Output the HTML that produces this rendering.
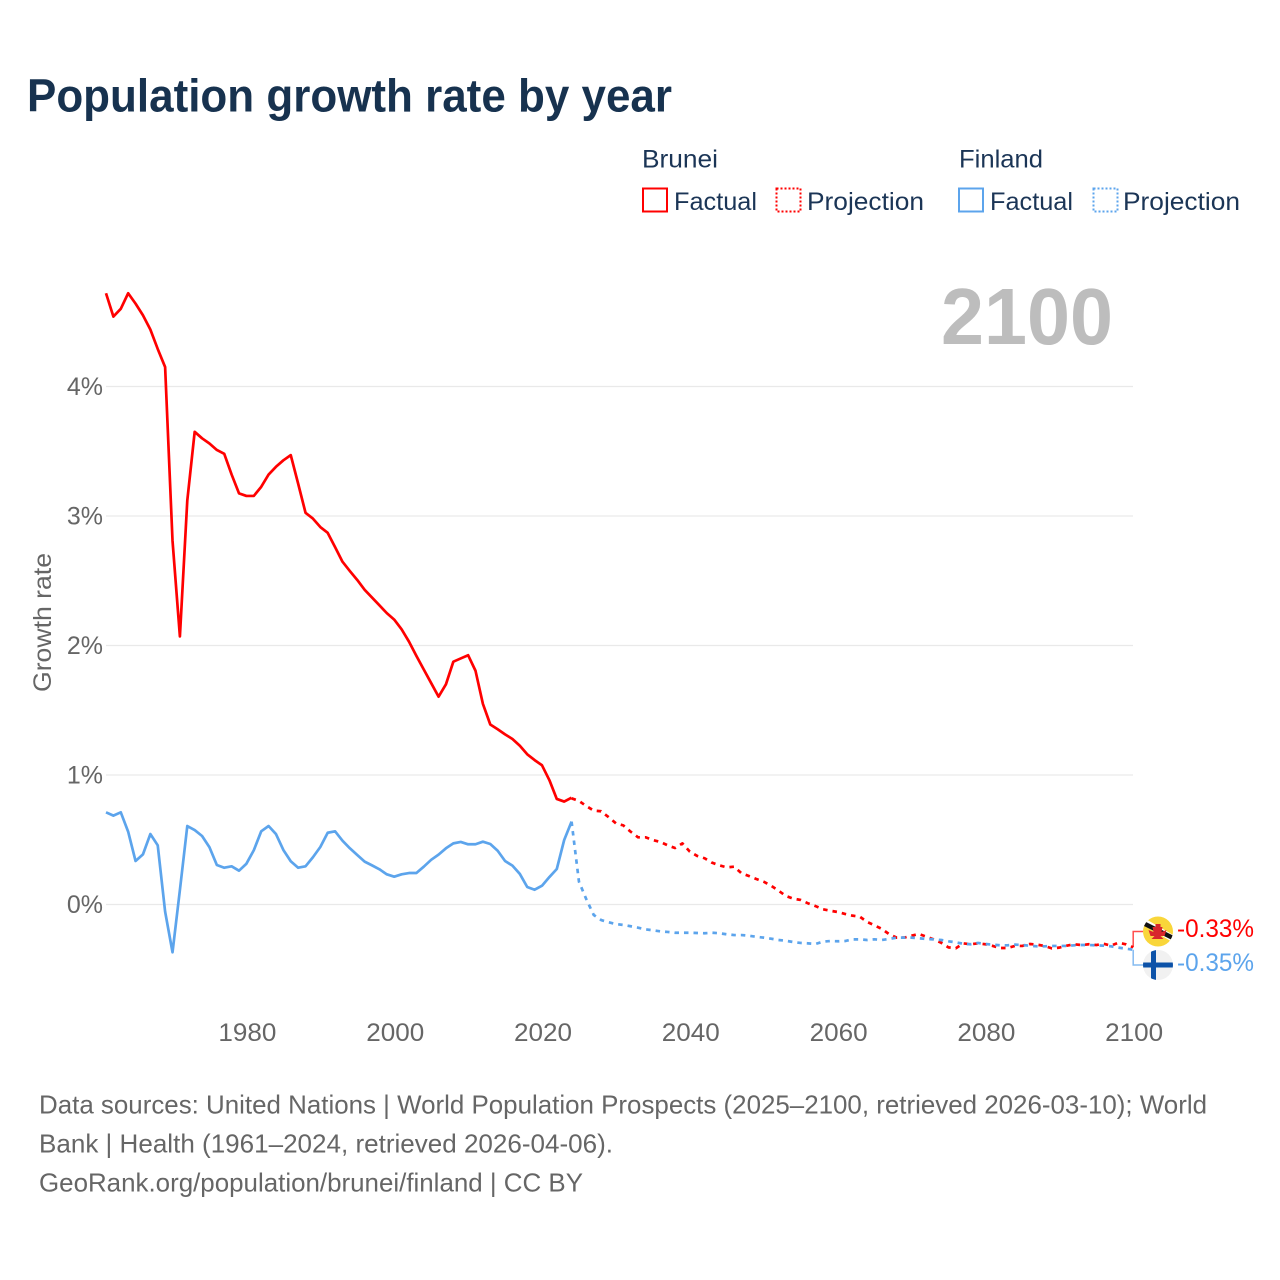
<!DOCTYPE html>
<html lang="en">
<head>
<meta charset="utf-8">
<title>Population growth rate by year</title>
<style>
html,body{margin:0;padding:0;background:#fff;}
svg{display:block;font-family:"Liberation Sans",sans-serif;}
</style>
</head>
<body>
<svg id="chart" xmlns="http://www.w3.org/2000/svg" width="1280" height="1280" viewBox="0 0 1280 1280">
  <rect width="1280" height="1280" fill="#fff"/>
  <text x="27" y="111.500" font-size="46" font-weight="700" fill="#17324f" textLength="645" lengthAdjust="spacingAndGlyphs">Population growth rate by year</text>

  <g font-size="25" fill="#1b3556">
    <text x="642" y="167.500" textLength="76" lengthAdjust="spacingAndGlyphs">Brunei</text>
    <text x="959" y="167.500" textLength="84" lengthAdjust="spacingAndGlyphs">Finland</text>
    <rect x="643" y="188.500" width="24" height="23" fill="none" stroke="#ff0000" stroke-width="2"/>
    <text x="674" y="210" textLength="83" lengthAdjust="spacingAndGlyphs">Factual</text>
    <rect x="776.500" y="188.500" width="24" height="23" fill="none" stroke="#ff0000" stroke-width="2" stroke-dasharray="2 2"/>
    <text x="807" y="210" textLength="117" lengthAdjust="spacingAndGlyphs">Projection</text>
    <rect x="959" y="188.500" width="24" height="23" fill="none" stroke="#5ca4ec" stroke-width="2"/>
    <text x="990" y="210" textLength="83" lengthAdjust="spacingAndGlyphs">Factual</text>
    <rect x="1093.500" y="188.500" width="24" height="23" fill="none" stroke="#5ca4ec" stroke-width="2" stroke-dasharray="2 2"/>
    <text x="1123" y="210" textLength="117" lengthAdjust="spacingAndGlyphs">Projection</text>
  </g>

  <text x="941" y="344" font-size="80" font-weight="700" fill="#bdbdbd" textLength="172" lengthAdjust="spacingAndGlyphs">2100</text>
  <text transform="translate(51,622.500) rotate(-90)" text-anchor="middle" font-size="25" fill="#666" textLength="139" lengthAdjust="spacingAndGlyphs">Growth rate</text>

  <g id="grid"></g>
  <g id="yticks" font-size="25" fill="#666"></g>
  <g id="xticks" font-size="25" fill="#666"></g>
  <g id="series"></g>

  <g>
    <path id="conn-brunei" fill="none" stroke="#ff0000" stroke-opacity="0.7" stroke-width="1.500"/>
    <path id="conn-finland" fill="none" stroke="#5ca4ec" stroke-opacity="0.75" stroke-width="1.500"/>
    <defs>
      <clipPath id="clip-bn"><circle cx="1158" cy="931.500" r="15"/></clipPath>
      <clipPath id="clip-fi"><circle cx="1158" cy="965" r="15"/></clipPath>
    </defs>
    <g clip-path="url(#clip-bn)">
      <rect x="1143" y="916" width="30" height="31" fill="#f9d63a"/>
      <path d="M1141 920 L1177 941" stroke="#ffffff" stroke-width="6.500" fill="none"/>
      <path d="M1141 922 L1177 940" stroke="#111111" stroke-width="4.500" fill="none"/>
      <path d="M1155.500 924 h5 v3 h2 l-1 5 l5 -2 l-2 6 h-4 l3 3 h-12 l3 -3 h-4 l-2 -6 l5 2 l-1 -5 h3z" fill="#d8262c"/>
    </g>
    <g clip-path="url(#clip-fi)">
      <rect x="1143" y="950" width="30" height="30" fill="#f1f1f1"/>
      <rect x="1143" y="962.500" width="30" height="5" fill="#0c52a8"/>
      <rect x="1151" y="950" width="5" height="30" fill="#0c52a8"/>
    </g>
    <text x="1177" y="937" font-size="25" fill="#ff0000" textLength="77" lengthAdjust="spacingAndGlyphs">-0.33%</text>
    <text x="1177" y="971" font-size="25" fill="#5ca4ec" textLength="77" lengthAdjust="spacingAndGlyphs">-0.35%</text>
  </g>

  <g font-size="26" fill="#666">
    <text x="39" y="1113.500" textLength="1168" lengthAdjust="spacingAndGlyphs">Data sources: United Nations | World Population Prospects (2025–2100, retrieved 2026-03-10); World</text>
    <text x="39" y="1152.500" textLength="574" lengthAdjust="spacingAndGlyphs">Bank | Health (1961–2024, retrieved 2026-04-06).</text>
    <text x="39" y="1191.500" textLength="544" lengthAdjust="spacingAndGlyphs">GeoRank.org/population/brunei/finland | CC BY</text>
  </g>
</svg>
<script>
const factualStartYear = 1961;
const projectionStartYear = 2024;
const yTickValues = [0, 1, 2, 3, 4];
const yTickLabels = ["0%", "1%", "2%", "3%", "4%"];
const xTickLabels = [1980, 2000, 2020, 2040, 2060, 2080, 2100];

const bruneiFactual = [4.72,4.54,4.60,4.72,4.64,4.55,4.44,4.29,4.15,
  2.81,2.07,3.12,3.65,3.60,3.56,3.51,3.48,3.32,3.175,
  3.155,3.155,3.225,3.32,3.38,3.43,3.47,3.25,3.025,2.98,
  2.915,2.87,2.76,2.647,2.575,2.506,2.43,2.37,2.31,2.25,
  2.20,2.125,2.03,1.92,1.815,1.71,1.605,1.70,1.875,1.90,
  1.925,1.805,1.55,1.39,1.353,1.314,1.278,1.226,1.16,1.115,
  1.075,.96,.815,.795,.825];

const bruneiProjection = [.82,.80,.76,.725,.72,.675,.627,
  .611,.562,.519,.519,.498,.483,.457,.436,.472,.408,
  .375,.357,.323,.302,.287,.292,.241,.22,.197,.176,
  .145,.107,.066,.045,.035,.009,-.012,-.037,-.048,-.058,
  -.073,-.086,-.094,-.135,-.161,
  -.189,-.230,-.256,-.256,-.241,-.228,-.248,-.269,-.295,-.331,
  -.338,-.30,-.307,-.30,-.307,-.32,-.336,-.336,-.32,-.32,
  -.305,-.31,-.32,-.339,-.333,-.318,-.307,-.313,-.307,-.313,
  -.303,-.318,-.295,-.307,-.33];

const finlandFactual = [.712,.686,.712,.562,.336,.387,.544,.457,-.055,
  -.369,.112,.606,.575,.529,.442,.305,.284,.295,.261,
  .315,.419,.565,.606,.544,.421,.334,.284,.295,.365,
  .444,.554,.565,.493,.434,.382,.331,.302,.272,.233,
  .215,.233,.243,.243,.292,.345,.385,.434,.472,.483,
  .465,.465,.485,.467,.415,.336,.30,.236,.135,.114,
  .145,.212,.274,.498,.64];

const finlandProjection = [.64,.176,.04,-.081,-.12,-.137,-.151,
  -.158,-.168,-.179,-.192,-.199,-.207,-.212,-.218,-.218,-.218,
  -.22,-.222,-.218,-.222,-.23,-.236,-.236,-.241,-.249,-.256,
  -.264,-.274,-.28,-.29,-.297,-.30,-.305,-.287,-.282,-.284,
  -.282,-.269,-.269,-.274,-.269,
  -.274,-.266,-.256,-.256,-.256,-.261,-.266,-.269,-.274,-.284,
  -.292,-.303,-.307,-.297,-.305,-.31,-.315,-.315,-.31,-.313,
  -.318,-.323,-.323,-.32,-.32,-.32,-.315,-.313,-.313,-.315,
  -.318,-.323,-.333,-.341,-.349];

const NS = "http://www.w3.org/2000/svg";
const RED = "#ff0000";
const BLUE = "#5ca4ec";

function xScale(year) { return 106 + (year - 1961) * (1133.2 - 106) / (2100 - 1961); }
function yScale(value) { return 904.5 - value * 129.5; }

function linePath(values, startYear) {
  return values.map(function (v, i) {
    return (i ? "L" : "M") + xScale(startYear + i).toFixed(2) + " " + yScale(v).toFixed(2);
  }).join(" ");
}

const grid = document.getElementById("grid");
const yticks = document.getElementById("yticks");
yTickValues.forEach(function (v, i) {
  const line = document.createElementNS(NS, "line");
  
  
  line.setAttribute("x1", xScale(1961));
  line.setAttribute("x2", 1133);
  line.setAttribute("y1", yScale(v));
  line.setAttribute("y2", yScale(v));
  line.setAttribute("stroke", "#e9e9e9");
  line.setAttribute("stroke-width", "1.2");
  grid.appendChild(line);

  const t = document.createElementNS(NS, "text");
  
  
  t.setAttribute("x", 103);
  t.setAttribute("y", yScale(v) + 8.5);
  t.setAttribute("text-anchor", "end");
  t.textContent = yTickLabels[i];
  yticks.appendChild(t);
});

const xticks = document.getElementById("xticks");
xTickLabels.forEach(function (year) {
  const t = document.createElementNS(NS, "text");
  
  
  t.setAttribute("x", xScale(year) + 1);
  t.setAttribute("y", 1041);
  t.setAttribute("text-anchor", "middle");
  t.setAttribute("textLength", "58");
  t.setAttribute("lengthAdjust", "spacingAndGlyphs");
  t.textContent = year;
  xticks.appendChild(t);
});

const seriesGroup = document.getElementById("series");
function addLine(values, startYear, color, dashed) {
  const p = document.createElementNS(NS, "path");
  p.setAttribute("d", linePath(values, startYear));
  p.setAttribute("fill", "none");
  p.setAttribute("stroke", color);
  p.setAttribute("stroke-width", "2.7");
  p.setAttribute("stroke-linejoin", "round");
  if (dashed) { p.setAttribute("stroke-dasharray", "4.5 5"); }
  seriesGroup.appendChild(p);
  return p;
}
const lineBrunei = addLine(bruneiFactual, factualStartYear, RED, false);


const lineBruneiProj = addLine(bruneiProjection, projectionStartYear, RED, true);


const lineFinland = addLine(finlandFactual, factualStartYear, BLUE, false);


const lineFinlandProj = addLine(finlandProjection, projectionStartYear, BLUE, true);



const endX = xScale(2100);
const endBrunei = yScale(bruneiProjection[bruneiProjection.length - 1]);
const endFinland = yScale(finlandProjection[finlandProjection.length - 1]);
document.getElementById("conn-brunei").setAttribute("d", "M" + endX + " " + endBrunei + " V931.5 H1143");
document.getElementById("conn-finland").setAttribute("d", "M" + endX + " " + endFinland + " V965 H1143");
</script>
</body>
</html>
